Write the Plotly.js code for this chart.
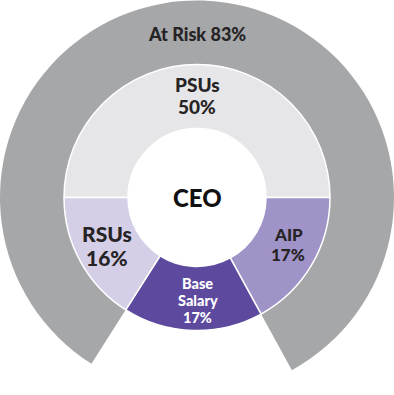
<!DOCTYPE html>
<html>
<head>
<meta charset="utf-8">
<script src="https://cdn.plot.ly/plotly-3.0.1.min.js"></script>
<style>html,body{margin:0;padding:0;background:#fff;}#chart{width:394px;height:395px;}</style>
</head>
<body>
<div id="chart"></div>
<script>
// Data
const innerLabels = ["PSUs", "AIP", "Base Salary", "RSUs"];
const innerValues = [50, 17, 17, 16];
const innerLines = [["PSUs"], ["AIP"], ["Base", "Salary"], ["RSUs"]];
const outerLabels = ["Fixed", "At Risk"];
const outerValues = [17, 83];
const centerLabel = "CEO";

const innerColors = ["#e6e6e8", "#a093c8", "#5d4a9e", "#d4cee7"];
const outerColors = ["rgba(0,0,0,0)", "#a6a7a9"];

const W = 394, H = 395;
const cx = 197, cy = 197.5;
const R = 197, r1 = 133, r0 = 69;

const outer = {
  type: "pie", values: outerValues, labels: outerLabels, sort: false,
  direction: "clockwise", rotation: 151.2,
  hole: r1 / R,
  marker: {colors: outerColors, line: {color: "#ffffff", width: [0, 0]}},
  textinfo: "none", hoverinfo: "none", showlegend: false,
  domain: {x: [0, 1], y: [0, 1]}
};
const inner = {
  type: "pie", values: innerValues, labels: innerLabels, sort: false,
  direction: "clockwise", rotation: -90,
  hole: r0 / r1,
  marker: {colors: innerColors, line: {color: "#ffffff", width: 1.5}},
  textinfo: "none", hoverinfo: "none", showlegend: false,
  domain: {x: [(cx - r1) / W, (cx + r1) / W], y: [(H - cy - r1) / H, (H - cy + r1) / H]}
};

function ann(text, px, py, size, color) {
  return {text: text, x: px / W, y: 1 - py / H, xref: "paper", yref: "paper",
    showarrow: false, xanchor: "center", yanchor: "middle",
    font: {family: "Lato", size: size, color: color, weight: 900}};
}
const dark = "#262325";
// label placement: [slice index, x, first-line y, line step, font size, colour]
const place = [
  [0, 197, 84, 22, 19, dark],
  [3, 107, 233, 24, 21, dark],
  [1, 288, 234, 20, 17, dark],
  [2, 198, 283, 17, 14.5, "#ffffff"]
];
const annotations = [
  ann(outerLabels[1] + " " + outerValues[1] + "%", 197, 34, 18, dark),
  ann(centerLabel, 197, 197, 24, "#111111")
];
place.forEach(([i, x, y, step, size, col]) => {
  const lines = innerLines[i].concat([innerValues[i] + "%"]);
  lines.forEach((t, k) => annotations.push(ann(t, x, y + k * step, size, col)));
});

Plotly.newPlot("chart", [outer, inner], {
  width: W, height: H,
  margin: {l: 0, r: 0, t: 0, b: 0},
  paper_bgcolor: "#ffffff",
  annotations: annotations
}, {staticPlot: true, displayModeBar: false});
</script>
</body>
</html>
